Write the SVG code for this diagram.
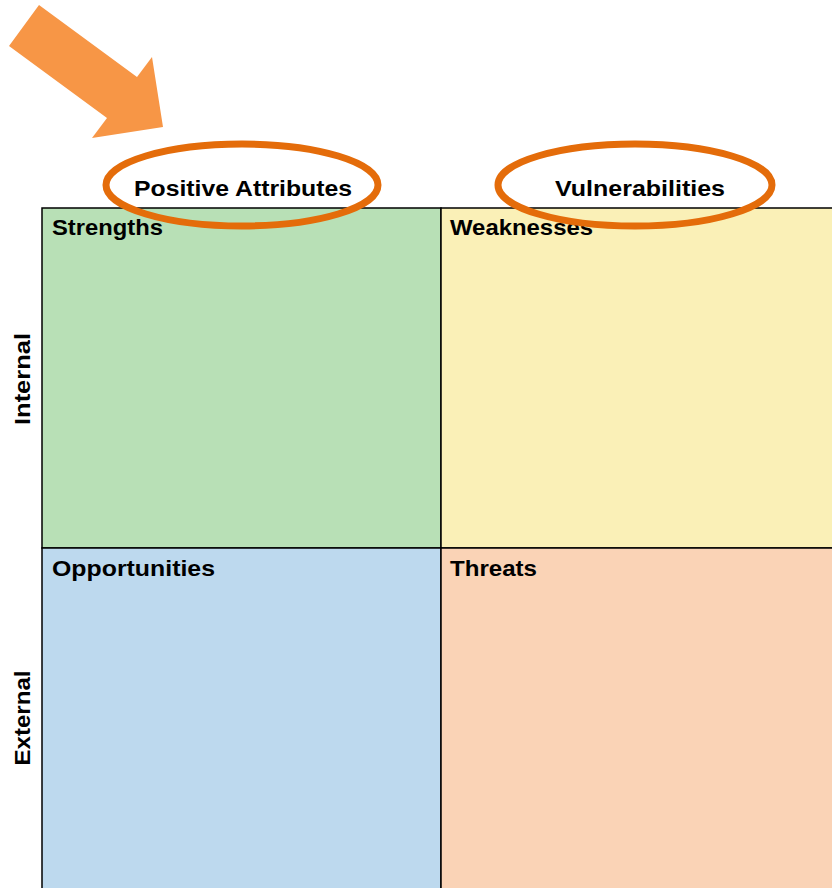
<svg xmlns="http://www.w3.org/2000/svg" width="832" height="888" viewBox="0 0 832 888">
<style>
.lbl{font-family:"Liberation Sans",Arial,sans-serif;font-weight:bold;font-size:22px;fill:#000}
.cell{stroke:#000;stroke-width:1.5}
.ring{fill:none;stroke:#E46C0A;stroke-width:7}
</style>
<rect width="832" height="888" fill="#fff"/>
<g id="arrow">
<polygon points="39,5 9,46 107,118 92,138 163,127 152,57 137,77" fill="#F79646"/>
</g>
<g id="strengths">
<rect class="cell" x="42" y="208" width="399" height="340" fill="#B8E0B6"/>
<text class="lbl" x="52" y="235" textLength="111" lengthAdjust="spacingAndGlyphs">Strengths</text>
</g>
<g id="weaknesses">
<rect class="cell" x="441" y="208" width="400" height="340" fill="#FAF0B7"/>
<text class="lbl" x="450" y="235" textLength="143" lengthAdjust="spacingAndGlyphs">Weaknesses</text>
</g>
<g id="opportunities">
<rect class="cell" x="42" y="548" width="399" height="350" fill="#BDD9EE"/>
<text class="lbl" x="52" y="576" textLength="163" lengthAdjust="spacingAndGlyphs">Opportunities</text>
</g>
<g id="threats">
<rect class="cell" x="441" y="548" width="400" height="350" fill="#FAD3B6"/>
<text class="lbl" x="450" y="576" textLength="87" lengthAdjust="spacingAndGlyphs">Threats</text>
</g>
<g id="internal">
<text class="lbl" transform="translate(30,379) rotate(-90)" text-anchor="middle" textLength="92" lengthAdjust="spacingAndGlyphs">Internal</text>
</g>
<g id="external">
<text class="lbl" transform="translate(30,718) rotate(-90)" text-anchor="middle" textLength="95" lengthAdjust="spacingAndGlyphs">External</text>
</g>
<g id="positive">
<text class="lbl" x="243" y="196" text-anchor="middle" textLength="218" lengthAdjust="spacingAndGlyphs">Positive Attributes</text>
<ellipse class="ring" cx="242" cy="185" rx="136" ry="41"/>
</g>
<g id="vulnerabilities">
<text class="lbl" x="640" y="196" text-anchor="middle" textLength="170" lengthAdjust="spacingAndGlyphs">Vulnerabilities</text>
<ellipse class="ring" cx="635" cy="185" rx="137" ry="41"/>
</g>
</svg>
